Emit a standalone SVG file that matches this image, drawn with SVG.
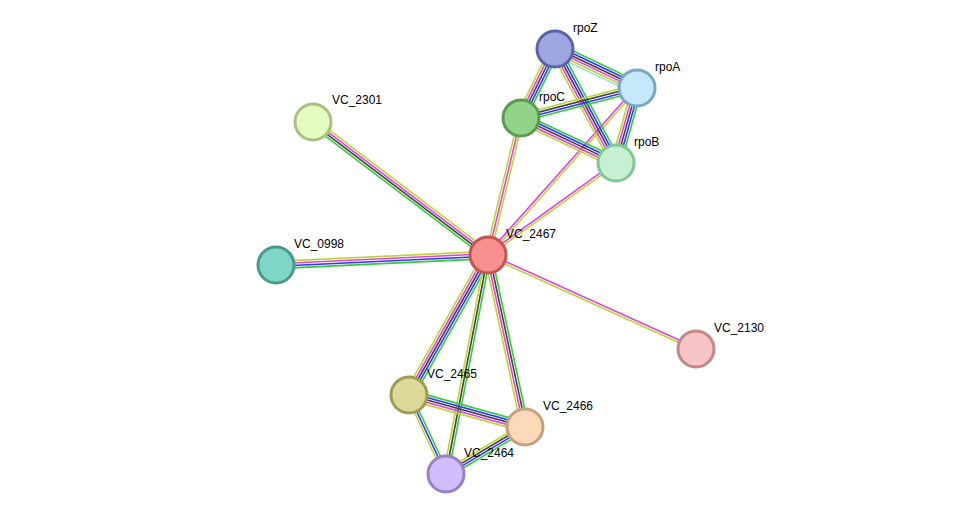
<svg xmlns="http://www.w3.org/2000/svg" width="976" height="520" viewBox="0 0 976 520">
<style>
line{stroke-width:1.6;fill:none}
.g{stroke:#33cc33}.b{stroke:#3333ff}.k{stroke:#444}.m{stroke:#dd44dd}.y{stroke:#bcd437}
circle{stroke-width:3}
text{font-family:"Liberation Sans",Arial,sans-serif;font-size:12px;fill:#000}
</style>
<rect width="976" height="520" fill="#fff"/>
<g id="edges">
<g transform="translate(488,255) rotate(177.3)"><line class="g" x2="212" y1="-3.6" y2="-3.6"/><line class="b" x2="212" y1="-1.2" y2="-1.2"/><line class="m" x2="212" y1="1.2" y2="1.2"/><line class="y" x2="212" y1="3.6" y2="3.6"/></g>
<g transform="translate(488,255) rotate(-142.8)"><line class="g" x2="220" y1="-3.6" y2="-3.6"/><line class="k" x2="220" y1="-1.2" y2="-1.2"/><line class="m" x2="220" y1="1.2" y2="1.2"/><line class="y" x2="220" y1="3.6" y2="3.6"/></g>
<g transform="translate(488,255) rotate(119.4)"><line class="g" x2="161" y1="-4.8" y2="-4.8"/><line class="b" x2="161" y1="-2.4" y2="-2.4"/><line class="k" x2="161" y1="0" y2="0"/><line class="m" x2="161" y1="2.4" y2="2.4"/><line class="y" x2="161" y1="4.8" y2="4.8"/></g>
<g transform="translate(488,255) rotate(100.9)"><line class="g" x2="223" y1="-2.4" y2="-2.4"/><line class="k" x2="223" y1="0" y2="0"/><line class="y" x2="223" y1="2.4" y2="2.4"/></g>
<g transform="translate(488,255) rotate(77.9)"><line class="g" x2="176" y1="-3.6" y2="-3.6"/><line class="k" x2="176" y1="-1.2" y2="-1.2"/><line class="m" x2="176" y1="1.2" y2="1.2"/><line class="y" x2="176" y1="3.6" y2="3.6"/></g>
<g transform="translate(488,255) rotate(24.3)"><line class="m" x2="228" y1="-1.2" y2="-1.2"/><line class="y" x2="228" y1="1.2" y2="1.2"/></g>
<g transform="translate(488,255) rotate(-76.5)"><line class="y" x2="141" y1="-2.4" y2="-2.4"/><line class="m" x2="141" y1="0" y2="0"/><line class="y" x2="141" y1="2.4" y2="2.4"/></g>
<g transform="translate(488,255) rotate(-48.3)"><line class="m" x2="224" y1="-1.2" y2="-1.2"/><line class="y" x2="224" y1="1.2" y2="1.2"/></g>
<g transform="translate(488,255) rotate(-35.7)"><line class="m" x2="158" y1="-1.2" y2="-1.2"/><line class="y" x2="158" y1="1.2" y2="1.2"/></g>
<g transform="translate(555,49) rotate(25.4)"><line class="g" x2="91" y1="-6" y2="-6"/><line class="b" x2="91" y1="-3.6" y2="-3.6"/><line class="k" x2="91" y1="-1.2" y2="-1.2"/><line class="m" x2="91" y1="1.2" y2="1.2"/><line class="y" x2="91" y1="3.6" y2="3.6"/><line class="g" x2="91" y1="6" y2="6" style="stroke:#a0e0d0"/></g>
<g transform="translate(555,49) rotate(116.2)"><line class="g" x2="77" y1="-4.8" y2="-4.8"/><line class="b" x2="77" y1="-2.4" y2="-2.4"/><line class="k" x2="77" y1="0" y2="0"/><line class="m" x2="77" y1="2.4" y2="2.4"/><line class="y" x2="77" y1="4.8" y2="4.8"/></g>
<g transform="translate(555,49) rotate(61.8)"><line class="g" x2="129" y1="-4.8" y2="-4.8"/><line class="b" x2="129" y1="-2.4" y2="-2.4"/><line class="k" x2="129" y1="0" y2="0"/><line class="m" x2="129" y1="2.4" y2="2.4"/><line class="y" x2="129" y1="4.8" y2="4.8"/></g>
<g transform="translate(637,88) rotate(165.5)"><line class="g" x2="120" y1="-3.6" y2="-3.6"/><line class="b" x2="120" y1="-1.2" y2="-1.2"/><line class="k" x2="120" y1="1.2" y2="1.2"/><line class="y" x2="120" y1="3.6" y2="3.6"/></g>
<g transform="translate(637,88) rotate(105.6)"><line class="g" x2="78" y1="-4.8" y2="-4.8"/><line class="b" x2="78" y1="-2.4" y2="-2.4"/><line class="k" x2="78" y1="0" y2="0"/><line class="m" x2="78" y1="2.4" y2="2.4"/><line class="y" x2="78" y1="4.8" y2="4.8"/></g>
<g transform="translate(521,118) rotate(25.3)"><line class="g" x2="105" y1="-4.8" y2="-4.8"/><line class="b" x2="105" y1="-2.4" y2="-2.4"/><line class="k" x2="105" y1="0" y2="0"/><line class="m" x2="105" y1="2.4" y2="2.4"/><line class="y" x2="105" y1="4.8" y2="4.8"/></g>
<g transform="translate(409,395) rotate(15.4)"><line class="g" x2="120" y1="-4.8" y2="-4.8"/><line class="b" x2="120" y1="-2.4" y2="-2.4"/><line class="k" x2="120" y1="0" y2="0"/><line class="m" x2="120" y1="2.4" y2="2.4"/><line class="y" x2="120" y1="4.8" y2="4.8"/></g>
<g transform="translate(409,395) rotate(64.9)"><line class="g" x2="87" y1="-2.4" y2="-2.4"/><line class="b" x2="87" y1="0" y2="0"/><line class="y" x2="87" y1="2.4" y2="2.4"/></g>
<g transform="translate(525,427) rotate(149.2)"><line class="g" x2="92" y1="-3.6" y2="-3.6"/><line class="b" x2="92" y1="-1.2" y2="-1.2"/><line class="k" x2="92" y1="1.2" y2="1.2"/><line class="y" x2="92" y1="3.6" y2="3.6"/></g>
</g>
<g id="VC_2467"><circle cx="488" cy="255" r="18" fill="#f98f8f" stroke="#c05555"/><text x="506" y="238">VC_2467</text></g>
<g id="rpoZ"><circle cx="555" cy="49" r="18" fill="#9ea6e0" stroke="#5a63a6"/><text x="573" y="32">rpoZ</text></g>
<g id="rpoA"><circle cx="637" cy="88" r="18" fill="#c5e8fb" stroke="#7ba6c2"/><text x="655" y="71">rpoA</text></g>
<g id="rpoC"><circle cx="521" cy="118" r="18" fill="#92d38a" stroke="#5a9a52"/><text x="539" y="101">rpoC</text></g>
<g id="rpoB"><circle cx="616" cy="163" r="18" fill="#c7f0d2" stroke="#83c597"/><text x="634" y="146">rpoB</text></g>
<g id="VC_2301"><circle cx="313" cy="122" r="18" fill="#e4fcc0" stroke="#a8c081"/><text x="332" y="104">VC_2301</text></g>
<g id="VC_0998"><circle cx="276" cy="265" r="18" fill="#7fd6c8" stroke="#4a9a8c"/><text x="294" y="248">VC_0998</text></g>
<g id="VC_2130"><circle cx="696" cy="349" r="18" fill="#f7c5c5" stroke="#c08888"/><text x="714" y="332">VC_2130</text></g>
<g id="VC_2465"><circle cx="409" cy="395" r="18" fill="#dcd898" stroke="#9f9b55"/><text x="427" y="378">VC_2465</text></g>
<g id="VC_2466"><circle cx="525" cy="427" r="18" fill="#fcd9b8" stroke="#c5a07e"/><text x="543" y="410">VC_2466</text></g>
<g id="VC_2464"><circle cx="446" cy="474" r="18" fill="#d1befc" stroke="#9882c4"/><text x="464" y="457">VC_2464</text></g>
</svg>
